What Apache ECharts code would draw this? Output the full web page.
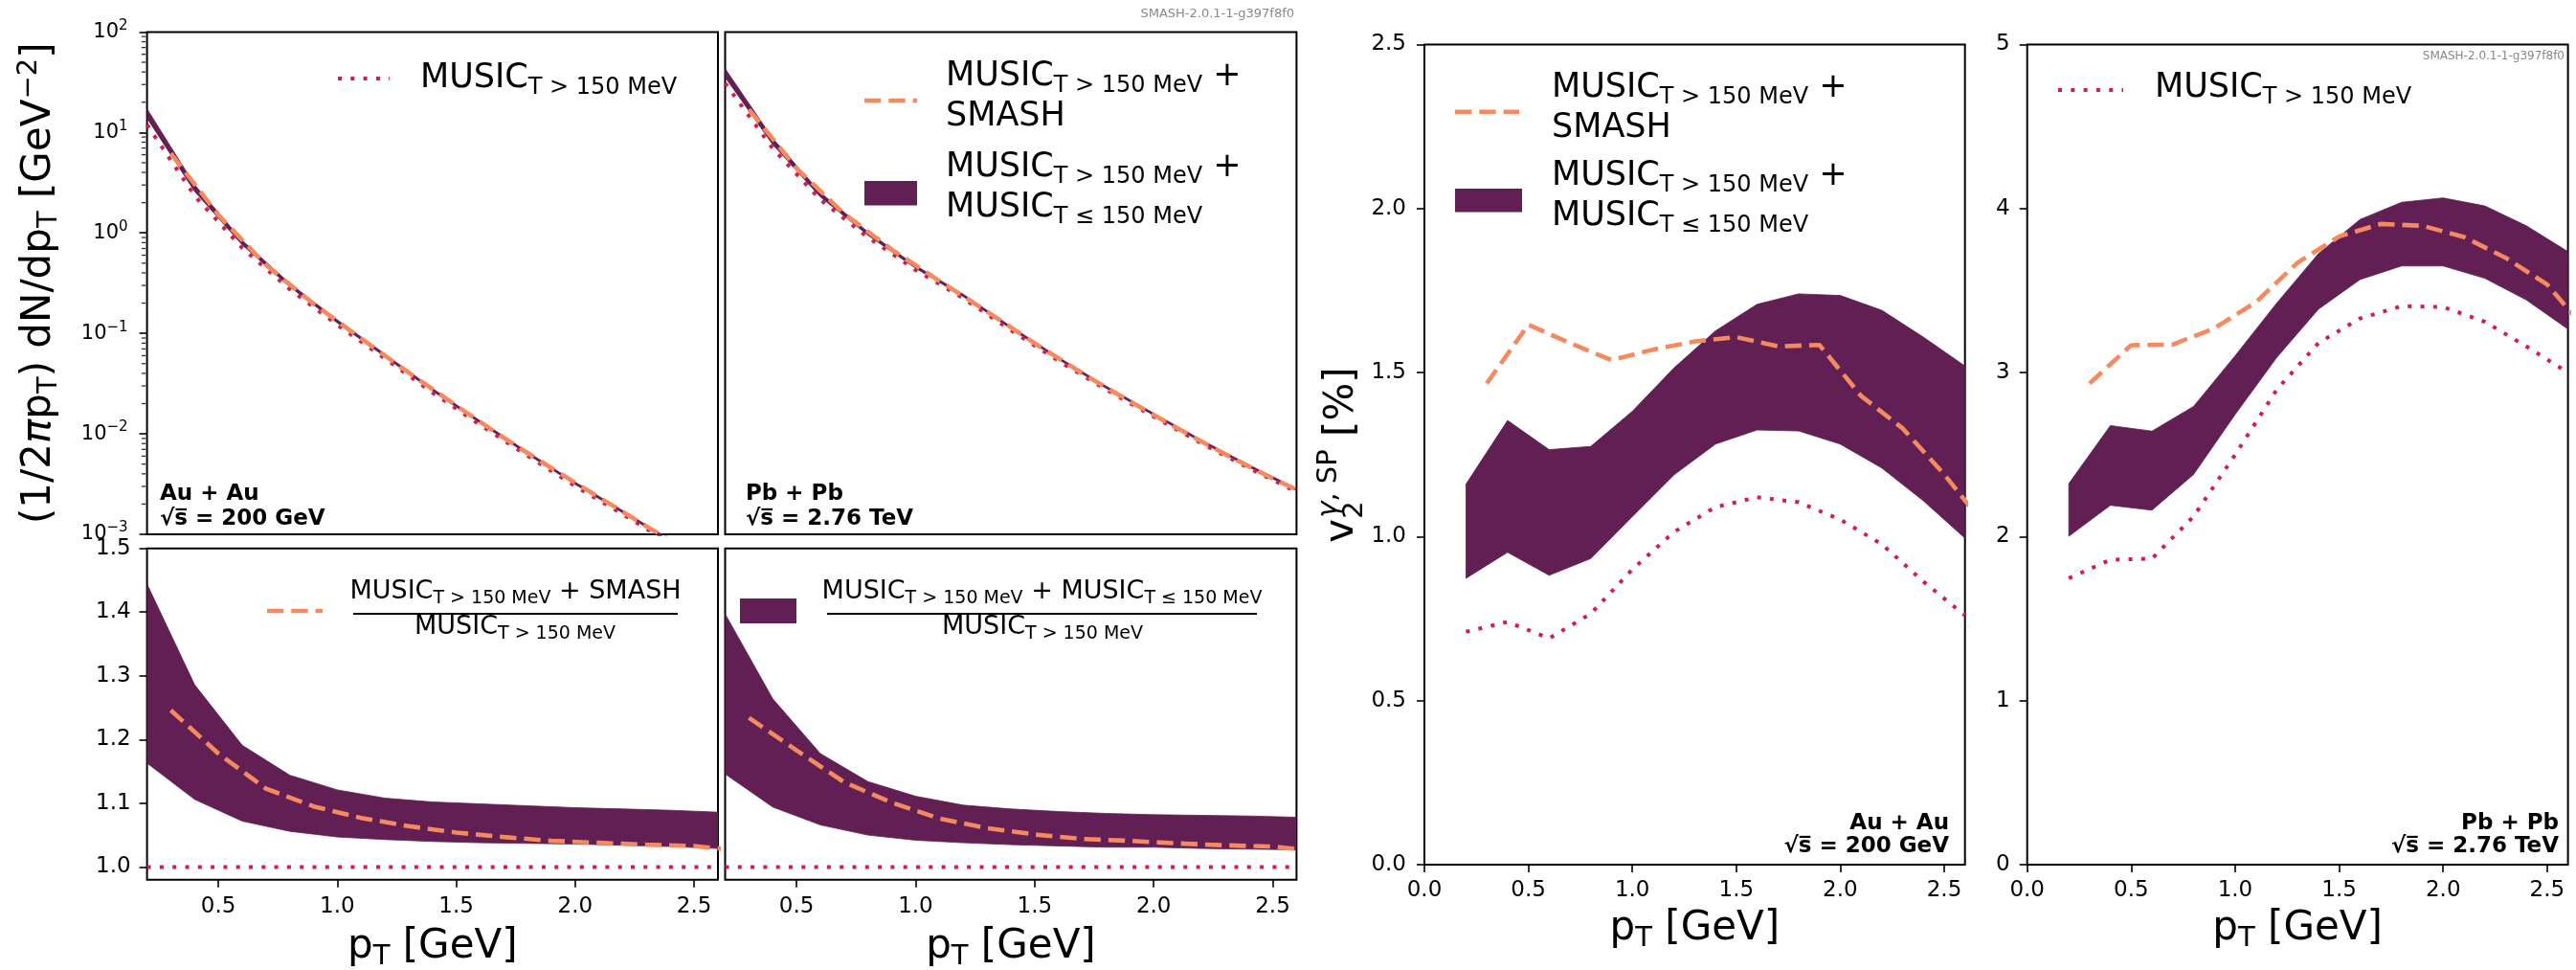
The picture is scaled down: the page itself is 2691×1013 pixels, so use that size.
<!DOCTYPE html>
<html>
<head>
<meta charset="utf-8">
<script src="https://cdn.jsdelivr.net/npm/echarts@6/dist/echarts.min.js"></script>
<style>
  html, body { margin: 0; padding: 0; background: #fff; }
  #chart { width: 2691px; height: 1013px; }
</style>
</head>
<body>
<div id="chart"></div>
<script>
// pT grids (GeV)
const ptBand = [0.2, 0.4, 0.6, 0.8, 1.0, 1.2, 1.4, 1.6, 1.8, 2.0, 2.2, 2.4, 2.6];
const ptSmash = [0.3, 0.5, 0.7, 0.9, 1.1, 1.3, 1.5, 1.7, 1.9, 2.1, 2.3, 2.5, 2.7];

// spectra, Au+Au 200 GeV
const auSpecMusic = [11.9, 2.34, 0.708, 0.275, 0.1216, 0.0562, 0.0257, 0.0123, 0.00603, 0.00302, 0.00158, 0.000813, 0.000427];
const auSpecBandLo = [13.84, 2.588, 0.759, 0.2904, 0.1273, 0.0586, 0.02673, 0.01277, 0.006253, 0.003129, 0.001634, 0.000839, 0.000439];
const auSpecBandHi = [17.18, 3.009, 0.843, 0.3146, 0.1363, 0.0623, 0.02832, 0.01352, 0.006609, 0.003301, 0.001724, 0.000885, 0.000464];
const auSpecSmash = [6.2, 1.51, 0.479, 0.197, 0.0891, 0.0407, 0.0191, 0.00912, 0.00457, 0.00234, 0.0012, 0.00063, 0.00033];

// spectra, Pb+Pb 2.76 TeV
const pbSpecMusic = [30.9, 6.92, 2.14, 0.902, 0.427, 0.224, 0.1076, 0.0533, 0.0276, 0.01483, 0.00807, 0.00455, 0.00266];
const pbSpecBandLo = [35.41, 7.57, 2.281, 0.947, 0.445, 0.2325, 0.1114, 0.05506, 0.02846, 0.01529, 0.0083, 0.004677, 0.002732];
const pbSpecBandHi = [43.17, 8.747, 2.521, 1.023, 0.4744, 0.2457, 0.1174, 0.05794, 0.02992, 0.01605, 0.008724, 0.004914, 0.002867];
const pbSpecSmash = [17.0, 4.40, 1.55, 0.684, 0.333, 0.165, 0.0798, 0.0401, 0.02104, 0.01135, 0.00627, 0.00359, 0.00217];

// ratios to MUSIC T>150 MeV
const musicRatio = [1, 1, 1, 1, 1, 1, 1, 1, 1, 1, 1, 1, 1];
const auRatioLo = [1.163, 1.106, 1.072, 1.056, 1.047, 1.043, 1.040, 1.038, 1.037, 1.036, 1.034, 1.032, 1.029];
const auRatioHi = [1.444, 1.286, 1.191, 1.144, 1.121, 1.108, 1.102, 1.099, 1.096, 1.093, 1.091, 1.089, 1.086];
const auRatioSmash = [1.246, 1.178, 1.123, 1.095, 1.077, 1.064, 1.054, 1.047, 1.041, 1.038, 1.035, 1.033, 1.025];
const pbRatioLo = [1.146, 1.094, 1.066, 1.050, 1.042, 1.038, 1.035, 1.033, 1.031, 1.031, 1.029, 1.028, 1.027];
const pbRatioHi = [1.397, 1.264, 1.178, 1.134, 1.111, 1.097, 1.091, 1.087, 1.084, 1.082, 1.081, 1.080, 1.078];
const pbRatioSmash = [1.234, 1.183, 1.133, 1.101, 1.076, 1.061, 1.051, 1.044, 1.041, 1.037, 1.034, 1.032, 1.024];

// v2 (%)
const auV2Music = [0.71, 0.74, 0.69, 0.765, 0.90, 1.014, 1.09, 1.12, 1.105, 1.052, 0.977, 0.863, 0.76];
const auV2BandLo = [0.873, 0.952, 0.882, 0.933, 1.061, 1.188, 1.282, 1.325, 1.322, 1.282, 1.209, 1.109, 0.995];
const auV2BandHi = [1.16, 1.354, 1.265, 1.275, 1.382, 1.514, 1.627, 1.708, 1.74, 1.735, 1.69, 1.608, 1.52];
const auV2Smash = [1.467, 1.646, 1.59, 1.538, 1.57, 1.595, 1.608, 1.58, 1.584, 1.429, 1.33, 1.19, 1.03];
const pbV2Music = [1.746, 1.859, 1.866, 2.123, 2.50, 2.896, 3.18, 3.33, 3.405, 3.40, 3.31, 3.16, 3.0];
const pbV2BandLo = [2.002, 2.191, 2.161, 2.379, 2.745, 3.092, 3.386, 3.567, 3.65, 3.65, 3.575, 3.443, 3.265];
const pbV2BandHi = [2.323, 2.677, 2.643, 2.794, 3.103, 3.424, 3.725, 3.933, 4.038, 4.065, 4.016, 3.895, 3.737];
const pbV2Smash = [2.934, 3.167, 3.171, 3.27, 3.43, 3.67, 3.83, 3.906, 3.895, 3.827, 3.70, 3.537, 3.24];

// tick values
const ptTicksRatio = [0.5, 1.0, 1.5, 2.0, 2.5];
const ptTicksV2 = [0, 0.5, 1.0, 1.5, 2.0, 2.5];
const ratioTicks = [1.0, 1.1, 1.2, 1.3, 1.4, 1.5];
const auV2Ticks = [0, 0.5, 1.0, 1.5, 2.0, 2.5];
const pbV2Ticks = [0, 1, 2, 3, 4, 5];
const logMinorTicks = [
  0.002, 0.003, 0.004, 0.005, 0.006, 0.007, 0.008, 0.009,
  0.02, 0.03, 0.04, 0.05, 0.06, 0.07, 0.08, 0.09,
  0.2, 0.3, 0.4, 0.5, 0.6, 0.7, 0.8, 0.9,
  2, 3, 4, 5, 6, 7, 8, 9,
  20, 30, 40, 50, 60, 70, 80, 90
];

const FONT = 'DejaVu Sans';
const RED = '#d21d4f';
const ORANGE = '#f58a60';
const BAND = '#611f53';
const DOT = [4, 9.3];
const DASH = [17.3, 8];

const chart = echarts.init(document.getElementById('chart'), null, { renderer: 'canvas' });

const gridBox = (left, top, width, height) => ({
  left, top, width, height, show: true, borderColor: '#000', borderWidth: 2,
  backgroundColor: 'transparent', containLabel: false, outerBoundsMode: 'none'
});

const tickStyle = { show: true, inside: false, length: 8, lineStyle: { color: '#000', width: 1.6 } };
const labelStyle = { color: '#000', fontFamily: FONT, fontSize: 23, lineHeight: 26 };

const nameRich = {
  s: { fontSize: 29, fontFamily: FONT, color: '#000', verticalAlign: 'bottom', lineHeight: 30 },
  p: { fontSize: 29, fontFamily: FONT, color: '#000', verticalAlign: 'top', lineHeight: 30 },
  it: { fontSize: 42, fontFamily: FONT, fontStyle: 'italic', color: '#000', lineHeight: 50 }
};
const nameStyle = { fontSize: 42, fontFamily: FONT, color: '#000', lineHeight: 50, rich: nameRich };

const valueAxis = (gridIndex, min, max, ticks, fmt, margin, extra) => Object.assign({
  type: 'value', gridIndex, min, max,
  axisLine: { show: false },
  splitLine: { show: false },
  axisTick: ticks ? Object.assign({ customValues: ticks }, tickStyle) : { show: false },
  axisLabel: ticks ? Object.assign({ show: true, margin, customValues: ticks, formatter: fmt }, labelStyle) : { show: false }
}, extra || {});

const ptName = {
  name: 'p{s|T} [GeV]', nameLocation: 'middle', nameMoveOverlap: false, nameTextStyle: nameStyle
};

const fmt1 = v => v.toFixed(1);
const fmt0 = v => v.toFixed(0);
const fmtLog = v => {
  const e = Math.round(Math.log10(v));
  return '10{p|' + (e < 0 ? '\u2212' + (-e) : e) + '}';
};

const xAxis = [
  valueAxis(0, 0.2, 2.6, null),
  valueAxis(1, 0.2, 2.6, null),
  valueAxis(2, 0.2, 2.6, ptTicksRatio, fmt1, 15, Object.assign({ nameGap: 45 }, ptName)),
  valueAxis(3, 0.2, 2.6, ptTicksRatio, fmt1, 15, Object.assign({ nameGap: 45 }, ptName)),
  valueAxis(4, 0, 2.6, ptTicksV2, fmt1, 14, Object.assign({ nameGap: 42 }, ptName)),
  valueAxis(5, 0, 2.6, ptTicksV2, fmt1, 14, Object.assign({ nameGap: 42 }, ptName))
];

const yAxis = [
  {
    type: 'log', logBase: 10, gridIndex: 0, min: 0.001, max: 100,
    axisLine: { show: false }, splitLine: { show: false }, minorTick: { show: false },
    axisTick: tickStyle,
    axisLabel: {
      show: true, margin: 20, color: '#000', fontFamily: FONT, fontSize: 21, lineHeight: 28,
      formatter: fmtLog,
      rich: { p: { fontSize: 15, fontFamily: FONT, color: '#000', verticalAlign: 'top', lineHeight: 16 } }
    },
    name: '(1/2{it|\u03c0}p{s|T}) dN/dp{s|T} [GeV{p|\u22122}]',
    nameLocation: 'middle', nameRotate: 90, nameGap: 88, nameMoveOverlap: false, nameTextStyle: nameStyle
  },
  {
    type: 'log', logBase: 10, gridIndex: 1, min: 0.001, max: 100,
    axisLine: { show: false }, splitLine: { show: false }, axisTick: { show: false }, axisLabel: { show: false }
  },
  valueAxis(2, 0.98, 1.5, ratioTicks, fmt1, 17),
  valueAxis(3, 0.98, 1.5, null),
  valueAxis(4, 0, 2.5, auV2Ticks, fmt1, 19),
  valueAxis(5, 0, 5, pbV2Ticks, fmt0, 18)
];

const bandSeries = (g, xs, lo, hi) => ({
  type: 'custom', xAxisIndex: g, yAxisIndex: g, silent: true, z: 2,
  data: xs.map((x, i) => [x, lo[i], hi[i]]),
  encode: { x: 0, y: [1, 2] },
  renderItem: (params, api) => {
    if (params.dataIndex !== 0) return null;
    const upper = xs.map((x, i) => api.coord([x, hi[i]]));
    const lower = xs.map((x, i) => api.coord([x, lo[i]])).reverse();
    const cs = params.coordSys;
    return {
      type: 'group',
      clipPath: { type: 'rect', shape: { x: cs.x, y: cs.y, width: cs.width, height: cs.height } },
      children: [{
        type: 'polygon',
        shape: { points: upper.concat(lower) },
        style: { fill: BAND, stroke: BAND, lineWidth: 0.8 }
      }]
    };
  }
});

const lineSeries = (g, xs, ys, color, dash, width, z) => ({
  type: 'line', xAxisIndex: g, yAxisIndex: g, silent: true, z,
  data: xs.map((x, i) => [x, ys[i]]),
  showSymbol: false, symbol: 'none', clip: true,
  lineStyle: { color, width, type: dash, cap: 'butt' }
});

const panels = [
  [ptBand, auSpecBandLo, auSpecBandHi, auSpecMusic, auSpecSmash],
  [ptBand, pbSpecBandLo, pbSpecBandHi, pbSpecMusic, pbSpecSmash],
  [ptBand, auRatioLo, auRatioHi, musicRatio, auRatioSmash],
  [ptBand, pbRatioLo, pbRatioHi, musicRatio, pbRatioSmash],
  [ptBand, auV2BandLo, auV2BandHi, auV2Music, auV2Smash],
  [ptBand, pbV2BandLo, pbV2BandHi, pbV2Music, pbV2Smash]
];

const series = [];
panels.forEach(([xs, lo, hi, music, smash], g) => {
  series.push(bandSeries(g, xs, lo, hi));
  series.push(lineSeries(g, xs, music, RED, DOT, 4, 3));
  series.push(lineSeries(g, ptSmash, smash, ORANGE, DASH, 4.6, 4));
});

// minor ticks of the log axis
series.push({
  type: 'scatter', xAxisIndex: 0, yAxisIndex: 0, silent: true, clip: false, z: 5,
  data: logMinorTicks.map(v => [0.2, v]),
  symbol: 'rect', symbolSize: [4.5, 1.3], symbolOffset: [-3.5, 0],
  itemStyle: { color: '#000' }
});

// legends and annotations
const gText = (x, y, text, style, extra) => Object.assign({
  type: 'text', x, y, silent: true,
  style: Object.assign({ text, fill: '#000', fontFamily: FONT }, style)
}, extra || {});
const gLine = (x1, x2, y, color, dash, width) => ({
  type: 'line', silent: true,
  shape: { x1, y1: y, x2, y2: y },
  style: { stroke: color, lineWidth: width, lineDash: dash, lineCap: 'butt' }
});
const gRect = (x, y, w, h) => ({ type: 'rect', silent: true, shape: { x, y, width: w, height: h }, style: { fill: BAND } });

const legStyle = {
  fontSize: 35, lineHeight: 42, align: 'left', verticalAlign: 'top',
  rich: { s: { fontSize: 24, fontFamily: FONT, fill: '#000', verticalAlign: 'bottom', lineHeight: 24 } }
};
const fracStyle = {
  fontSize: 27, lineHeight: 32, align: 'center', verticalAlign: 'top',
  rich: { s: { fontSize: 19, fontFamily: FONT, fill: '#000', verticalAlign: 'bottom', lineHeight: 18 } }
};
const sysStyle = (align, lh) => ({ fontSize: 23, fontWeight: 'bold', lineHeight: lh, align, verticalAlign: 'top' });
const markStyle = size => ({ fontSize: size, fill: '#888', align: 'right', verticalAlign: 'middle' });

const music = 'MUSIC{s|T > 150 MeV}';
const musicLow = 'MUSIC{s|T \u2264 150 MeV}';
const sqrtS = '\u221as\u0305';

const graphic = [
  // top-left legend
  gLine(353, 407, 82, RED, DOT, 4),
  gText(439, 61.4, music, legStyle),
  // top-middle legend
  gLine(903, 958, 105, ORANGE, DASH, 4.6),
  gText(988, 59.4, music + ' +\nSMASH', legStyle),
  gRect(903, 189, 55, 25.5),
  gText(988, 154.4, music + ' +\n' + musicLow, legStyle),
  // bottom fraction legends
  gLine(279, 337, 638, ORANGE, DASH, 4.6),
  gText(538.5, 602.4, music + ' + SMASH', fracStyle),
  gLine(369, 708, 641, '#000', null, 2.2),
  gText(538, 639.4, music, fracStyle),
  gRect(773, 625, 59, 26),
  gText(1088.5, 602.4, music + ' + ' + musicLow, fracStyle),
  gLine(864, 1313, 641, '#000', null, 2.2),
  gText(1089, 639.4, music, fracStyle),
  // right panels legends
  gLine(1520, 1587, 116.7, ORANGE, DASH, 4.6),
  gText(1621, 71.4, music + ' +\nSMASH', legStyle),
  gRect(1520, 197, 70, 24.6),
  gText(1621, 163.4, music + ' +\n' + musicLow, legStyle),
  gLine(2150, 2218, 94, RED, DOT, 4),
  gText(2251, 71.4, music, legStyle),
  // collision systems
  gText(167, 503.3, 'Au + Au\n' + sqrtS + ' = 200 GeV', sysStyle('left', 25.5)),
  gText(779, 503.3, 'Pb + Pb\n' + sqrtS + ' = 2.76 TeV', sysStyle('left', 25.5)),
  gText(2036, 847.7, 'Au + Au\n' + sqrtS + ' = 200 GeV', sysStyle('right', 24)),
  gText(2673, 847.7, 'Pb + Pb\n' + sqrtS + ' = 2.76 TeV', sysStyle('right', 24)),
  // version marks
  gText(1352, 14.5, 'SMASH-2.0.1-1-g397f8f0', markStyle(13)),
  gText(2679, 58.5, 'SMASH-2.0.1-1-g397f8f0', markStyle(12)),
  // v2 axis title
  gText(1402, 475, '{a|v}{b|2}{g|\u03b3}{c|, SP}{a| [%]}', {
    align: 'center', verticalAlign: 'middle',
    rich: {
      a: { fontSize: 42, fontFamily: FONT, fill: '#000', align: 'left', lineHeight: 56 },
      b: { fontSize: 29, fontFamily: FONT, fill: '#000', align: 'left', verticalAlign: 'bottom', lineHeight: 30, width: 1 },
      g: { fontSize: 29, fontFamily: FONT, fontStyle: 'italic', fill: '#000', align: 'left', verticalAlign: 'top', lineHeight: 30 },
      c: { fontSize: 29, fontFamily: FONT, fill: '#000', align: 'left', verticalAlign: 'top', lineHeight: 30 }
    }
  }, { rotation: Math.PI / 2 })
];

chart.setOption({
  animation: false,
  backgroundColor: '#fff',
  textStyle: { fontFamily: FONT },
  grid: [
    gridBox(153.6, 33.4, 596.4, 524.6),
    gridBox(757.5, 33.4, 596.9, 524.6),
    gridBox(153.6, 572.7, 596.4, 346),
    gridBox(757.5, 572.7, 596.9, 346),
    gridBox(1488, 46.5, 564.7, 856.5),
    gridBox(2117.7, 46.5, 564.9, 856.5)
  ],
  xAxis,
  yAxis,
  series,
  graphic
});
</script>
</body>
</html>
